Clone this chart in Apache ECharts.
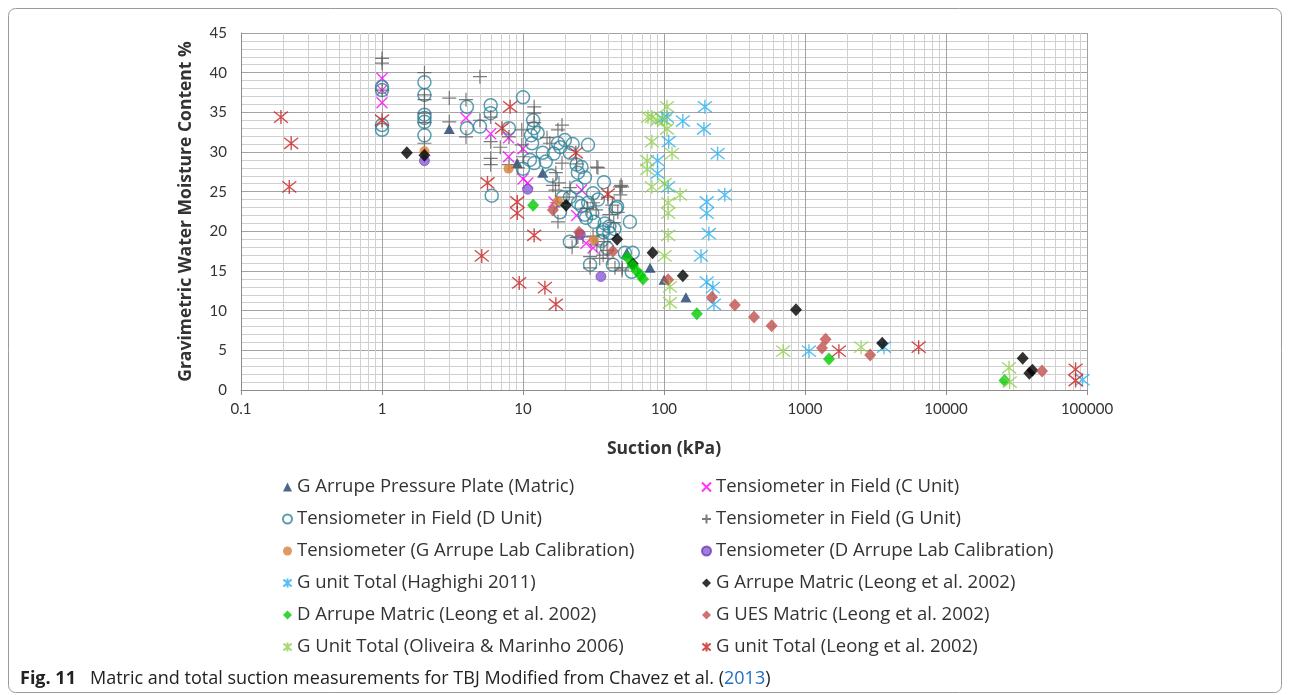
<!DOCTYPE html>
<html>
<head>
<meta charset="utf-8">
<script src="https://cdn.jsdelivr.net/npm/echarts@6/dist/echarts.min.js"></script>
<style>
  html, body { margin: 0; padding: 0; background: #fff; }
  #chart { width: 1290px; height: 695px; }
</style>
</head>
<body>
<div id="chart"></div>
<script>
// Suction (kPa) vs gravimetric water content (%) for the TBJ soil units.
const xTickLabels = ['0.1', '1', '10', '100', '1000', '10000', '100000'];
const yTickLabels = ['0', '5', '10', '15', '20', '25', '30', '35', '40', '45'];

const gArrupePressurePlate = [
  [3.0, 32.9], [9.1, 28.6], [13.8, 27.4], [54.5, 17.3], [79.6, 15.4], [100, 13.9], [143, 11.7]
];
const tensioFieldC = [
  [1, 39.3], [1, 37.8], [1, 36.2], [3.94, 34.3], [5.9, 32.3], [7.9, 31.8], [10, 30.4], [7.9, 29.4],
  [10, 26.6], [10.8, 26.1], [16.6, 23.7], [24, 22.0], [26, 25.2], [31.4, 17.9], [28, 18.5]
];
const tensioFieldD = [
  [1, 38.2], [1, 37.8], [1, 33.4], [1, 32.8],
  [2, 38.8], [2, 37.2], [2, 34.7], [2, 34.3], [2, 33.8], [2, 32.1],
  [4, 35.7], [4, 33.0], [4.95, 33.2], [5.9, 35.9], [5.9, 34.9], [6, 24.5],
  [10, 36.9], [7.95, 33.0], [11.8, 34.0], [11.9, 33.0], [11.4, 32.1], [12.7, 32.4], [11.6, 31.1], [11.2, 29.0], [10, 27.9],
  [13.8, 29.9], [12, 28.6], [15.8, 27.0], [17.7, 31.1], [19.8, 31.5], [18.4, 30.6], [28.9, 30.9], [21.5, 29.9],
  [24, 28.4], [26, 28.1], [24.5, 27.4], [27.5, 26.8], [31.4, 24.8], [34, 24.0], [37.5, 26.2], [46.5, 23.1],
  [24, 25.6], [21.5, 24.3], [24.6, 23.6], [29, 23.6],
  [18.3, 22.4], [21.5, 18.7], [29.9, 15.8], [43.4, 15.8], [28, 21.7], [32, 21.2], [37, 20.2], [41, 20.6], [31, 22.3],
  [19.2, 24.3], [57.3, 21.2], [37, 19.9], [27.4, 22.1], [41, 19.8], [36, 18.8], [26, 23.2],
  [45.5, 22.9], [38, 21.0], [44.5, 20.3], [39.4, 17.9], [52.8, 17.3], [60, 17.3], [59, 14.9],
  [16.5, 29.8], [22.5, 31.0], [14.5, 28.8]
];
const tensioFieldG = [
  [1, 41.8], [1, 41.2], [1, 37.8], [2, 40.0], [2, 37.2], [2, 36.6], [2, 34.9], [2, 33.7], [2, 31.1],
  [4.95, 39.5], [3, 36.8], [3, 33.8], [3.94, 36.6], [3.94, 31.9], [4.95, 34.0], [5.9, 34.4], [5.9, 31.3],
  [5.9, 29.2], [5.9, 28.4], [6.9, 30.6], [7.95, 31.9], [7.95, 28.4], [9.8, 32.8], [9.8, 30.9], [12, 35.7],
  [12, 34.9], [12, 33.7], [10, 29.4], [9.2, 28.0], [14.8, 31.8], [17.7, 32.8], [18.9, 33.4], [17.1, 27.4],
  [16.3, 25.8], [18.9, 28.6], [24, 28.5], [33.4, 28.1], [49.6, 25.8], [21.5, 25.5], [31.4, 23.6], [17.4, 23.6],
  [17, 25.2], [20.5, 24.3], [17.7, 21.2], [26.6, 19.3], [37, 17.0], [44.9, 15.4], [29.9, 15.4], [50.5, 15.4],
  [24, 19.2], [33.4, 18.3], [37.5, 18.7], [15.5, 31.1], [34, 28.0], [48.7, 25.6], [18, 26.1],
  [40, 24.3], [41, 22.1], [44, 21.1], [28.5, 22.9], [33, 22.7], [22.3, 18.0], [29.9, 16.8], [35, 16.6],
  [40, 16.6], [24.5, 19.3], [31.4, 19.4], [39.5, 17.6], [50.5, 25.6], [49, 24.6], [47, 22.4], [43, 23.3], [50.5, 15.1]
];
const tensioLabG = [[2, 30.1], [7.9, 27.9], [17.7, 23.8], [31.8, 18.9]];
const tensioLabD = [[2, 28.9], [10.8, 25.3], [25.5, 19.6], [35.7, 14.3]];
const haghighiTotal = [
  [195, 35.7], [105, 34.4], [97, 34.2], [136, 33.9], [192, 32.9], [108, 31.3], [240, 29.8], [90, 28.9],
  [90, 27.3], [107, 25.6], [270, 24.6], [201, 23.7], [201, 22.3], [208, 19.7], [183, 16.9], [201, 13.6],
  [222, 12.9], [226, 10.8], [1067, 4.9], [3630, 5.4], [93000, 1.3]
];
const gArrupeMatricLeong = [
  [1.5, 29.9], [2, 29.6], [20.2, 23.3], [46.5, 19.0], [83, 17.3], [60, 15.9], [136, 14.4],
  [863, 10.1], [3530, 5.9], [35000, 4.0], [39000, 2.1], [41000, 2.5]
];
const dArrupeMatricLeong = [
  [11.8, 23.3], [55, 16.7], [60, 15.7], [64, 15.0], [68, 14.5], [71, 14.0], [171, 9.6], [1480, 3.9], [26000, 1.2]
];
const gUesMatricLeong = [
  [16.3, 22.7], [25, 19.9], [43.4, 17.5], [107, 13.9], [219, 11.7], [318, 10.7], [435, 9.2], [580, 8.1],
  [1400, 6.4], [1320, 5.3], [2900, 4.4], [48000, 2.4]
];
const oliveiraTotal = [
  [105, 35.7], [77, 34.4], [82, 34.4], [90, 34.0], [101, 34.0], [105, 32.9], [82, 31.3], [114, 29.8],
  [76, 28.9], [76, 27.8], [82, 25.6], [101, 26.0], [130, 24.6], [107, 23.6], [107, 22.3], [107, 19.5],
  [101, 16.9], [110, 13.0], [110, 11.0], [700, 4.9], [2500, 5.4], [28000, 2.8], [28300, 1.0]
];
const leongTotal = [
  [0.192, 34.4], [0.227, 31.1], [0.22, 25.6], [1, 34.0], [8.1, 35.7], [7.1, 33.0], [5.6, 26.1], [9.1, 23.7],
  [23.7, 29.9], [40, 24.7], [9.1, 22.3], [12, 19.5], [5.1, 16.9], [9.4, 13.5], [14.3, 12.9], [17.1, 10.8],
  [1740, 4.9], [6400, 5.4], [83000, 2.6], [83000, 1.2]
];

// Minor log gridlines at 2..9 within every decade
const minorX = [];
for (let e = -1; e < 5; e++) {
  for (let d = 2; d <= 9; d++) minorX.push(+(d * Math.pow(10, e)).toPrecision(3));
}

const FONT = '"Open Sans", Lato, sans-serif';
const TICK_FONT = 'Lato, "Open Sans", sans-serif';
const PLUS = 'path://M5,0L5,10M0,5L10,5';
const CROSS = 'path://M0,0L10,10M0,10L10,0';
const STAR = 'path://M5,0L5,10M0.4,1L9.6,9M0.4,9L9.6,1';

function lineMark(color, width) {
  return { color: color, borderColor: color, borderWidth: width };
}

const seriesDefs = [
  { name: 'G Arrupe Pressure Plate (Matric)', data: gArrupePressurePlate, symbol: 'triangle', size: [11, 10], style: { color: '#1F3F6E' } },
  { name: 'Tensiometer in Field (C Unit)', data: tensioFieldC, symbol: CROSS, size: 11, style: lineMark('#FF00FF', 1.4) },
  { name: 'Tensiometer in Field (D Unit)', data: tensioFieldD, symbol: 'circle', size: 13, style: { color: 'rgba(0,0,0,0)', borderColor: '#31849B', borderWidth: 1.5 } },
  { name: 'Tensiometer in Field (G Unit)', data: tensioFieldG, symbol: PLUS, size: 14, style: lineMark('#5A5A5A', 1.2) },
  { name: 'Tensiometer (G Arrupe Lab Calibration)', data: tensioLabG, symbol: 'circle', size: 10, style: { color: '#D8813A' } },
  { name: 'Tensiometer (D Arrupe Lab Calibration)', data: tensioLabD, symbol: 'circle', size: 10, style: { color: '#8B5CD6', borderColor: '#6a3fb5', borderWidth: 0.8 } },
  { name: 'G unit Total (Haghighi 2011)', data: haghighiTotal, symbol: STAR, size: 14, style: lineMark('#29B0F0', 1.4) },
  { name: 'G Arrupe Matric (Leong et al. 2002)', data: gArrupeMatricLeong, symbol: 'diamond', size: [12, 13], style: { color: '#000000' } },
  { name: 'D Arrupe Matric (Leong et al. 2002)', data: dArrupeMatricLeong, symbol: 'diamond', size: [12, 13], style: { color: '#00CC00' } },
  { name: 'G UES Matric (Leong et al. 2002)', data: gUesMatricLeong, symbol: 'diamond', size: [12, 13], style: { color: '#C0504D' } },
  { name: 'G Unit Total (Oliveira & Marinho 2006)', data: oliveiraTotal, symbol: STAR, size: 14, style: lineMark('#92D050', 1.4) },
  { name: 'G unit Total (Leong et al. 2002)', data: leongTotal, symbol: STAR, size: 14, style: lineMark('#C82020', 1.4) }
];

const series = seriesDefs.map(function (s, i) {
  return {
    name: s.name,
    type: 'scatter',
    data: s.data,
    symbol: s.symbol,
    symbolSize: s.size,
    itemStyle: s.style,
    z: 3 + i,
    emphasis: { disabled: true }
  };
});

series.unshift({
  name: 'minor-grid',
  type: 'scatter',
  data: [],
  silent: true,
  z: 1,
  markLine: {
    silent: true,
    z: 1,
    symbol: ['none', 'none'],
    label: { show: false },
    lineStyle: { color: '#d0d0d0', width: 1, type: 'solid' },
    emphasis: { disabled: true },
    animation: false,
    data: minorX.map(function (v) { return { xAxis: v }; })
  }
});

const legendLeft = seriesDefs.filter(function (_, i) { return i % 2 === 0; }).map(function (s) { return s.name; });
const legendRight = seriesDefs.filter(function (_, i) { return i % 2 === 1; }).map(function (s) { return s.name; });

const legendCommon = {
  orient: 'vertical',
  top: 472,
  itemWidth: 9,
  itemHeight: 9,
  itemGap: 12,
  selectedMode: false,
  textStyle: { fontFamily: FONT, fontSize: 18.5, color: '#333', lineHeight: 20 }
};

const chart = echarts.init(document.getElementById('chart'), null, { renderer: 'canvas' });
chart.setOption({
  animation: false,
  backgroundColor: '#fff',
  grid: { left: 241, right: 203, top: 33, bottom: 305, containLabel: false },
  xAxis: {
    type: 'log',
    logBase: 10,
    min: 0.1,
    max: 100000,
    name: 'Suction (kPa)',
    nameLocation: 'middle',
    nameGap: 50,
    nameTextStyle: { fontFamily: FONT, fontSize: 17.5, fontWeight: 'bold', color: '#333' },
    axisLine: { show: true, lineStyle: { color: '#8c8c8c' } },
    axisTick: { show: true, length: 5, lineStyle: { color: '#8c8c8c' } },
    axisLabel: {
      fontFamily: TICK_FONT, fontSize: 15, color: '#333', margin: 12,
      formatter: function (v) {
        const k = Math.round(Math.log10(v)) + 1;
        return xTickLabels[k] !== undefined ? xTickLabels[k] : '';
      }
    },
    splitLine: { show: true, lineStyle: { color: '#a3a3a3', width: 1 } }
  },
  yAxis: {
    type: 'value',
    min: 0,
    max: 45,
    interval: 5,
    name: 'Gravimetric Water Moisture Content %',
    nameLocation: 'middle',
    nameGap: 46,
    nameTextStyle: { fontFamily: FONT, fontSize: 17.5, fontWeight: 'bold', color: '#333' },
    axisLine: { show: true, lineStyle: { color: '#8c8c8c' } },
    axisTick: { show: false },
    axisLabel: {
      fontFamily: TICK_FONT, fontSize: 15, color: '#333', margin: 14,
      formatter: function (v) { return yTickLabels[Math.round(v / 5)]; }
    },
    splitLine: { show: true, lineStyle: { color: '#a3a3a3', width: 1 } },
    minorTick: { show: false, splitNumber: 5 },
    minorSplitLine: { show: true, lineStyle: { color: '#d0d0d0', width: 1 } }
  },
  legend: [
    Object.assign({ left: 277, data: legendLeft }, legendCommon),
    Object.assign({ left: 696, data: legendRight }, legendCommon)
  ],
  graphic: [
    {
      type: 'rect',
      silent: true,
      shape: { x: 8.5, y: 8.5, width: 1273, height: 684, r: 7 },
      style: { fill: 'none', stroke: '#9a9a9a', lineWidth: 1 }
    },
    {
      type: 'text',
      left: 20,
      top: 670,
      silent: true,
      style: {
        text: '{b|Fig. 11}   Matric and total suction measurements for TBJ Modified from Chavez et al. ({c|2013})',
        fontFamily: FONT,
        fontSize: 18,
        fill: '#222',
        rich: {
          b: { fontFamily: FONT, fontSize: 18, fontWeight: 'bold', fill: '#222' },
          c: { fontFamily: FONT, fontSize: 18, fill: '#1f6fc4' }
        }
      }
    }
  ],
  series: series
});
</script>
</body>
</html>
